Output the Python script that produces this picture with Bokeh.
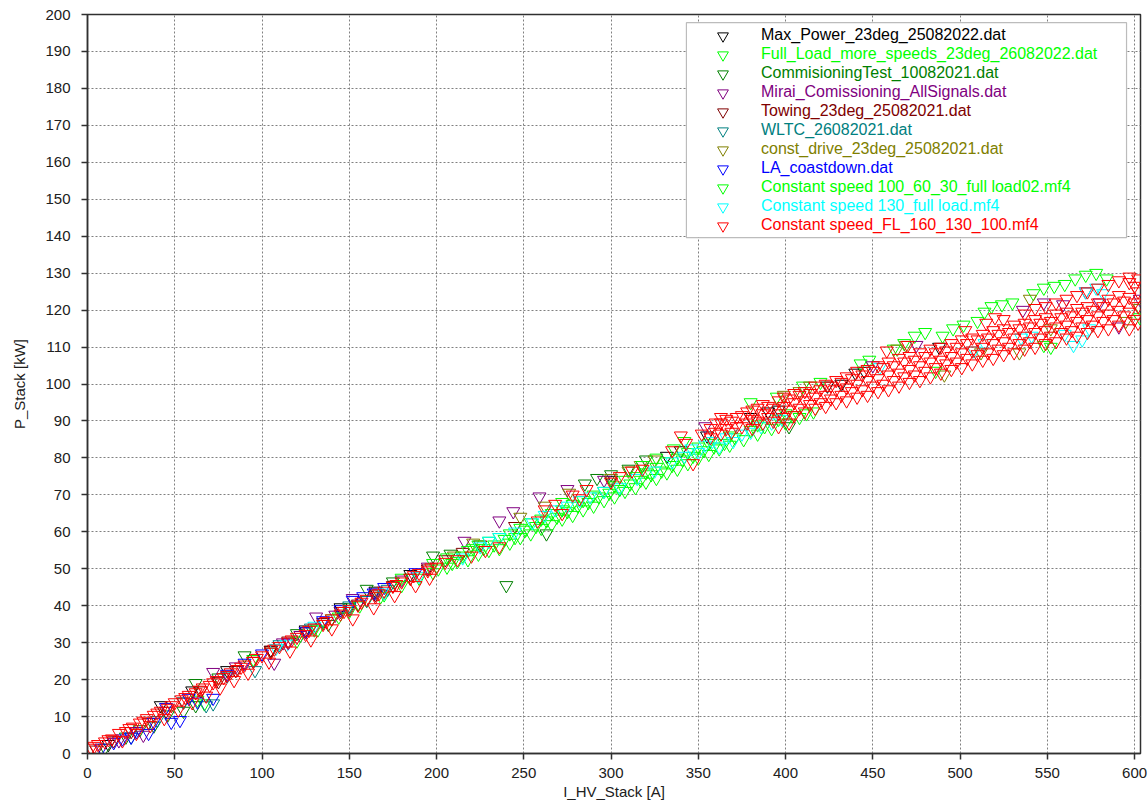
from bokeh.plotting import figure
from bokeh.models import Legend, LegendItem, BoxAnnotation, FixedTicker, Range1d
from bokeh.embed import file_html
from bokeh.resources import INLINE

x_ticks = list(range(0, 601, 50))
y_ticks = list(range(0, 201, 10))

max_power = [(12,2.5),(42,13.0),(60,17.0),(80,22.5),(105,28.0),(125,33.5),(145,39.5),(165,44.0),(185,48.5),
             (300,74.0),(318,78.0),(332,80.5),(340,82.0),(355,86.0),(380,91.0),(390,92.5),(396,93.0),
             (424,99.5),(432,100.0),(440,103.0),(445,103.5),(488,110.0)]
full_load = [(63,14.5),(67,13.5),(95,25.5),(130,33.5),(140,36.5),(150,38.5),(160,41.5),(170,43.0),
             (380,95.0),(395,96.5),(410,99.5),(420,100.5),(443,105.5),(448,106.5),(462,109.5),(468,111.0),
             (474,113.0),(480,114.0),(486,103.5),(490,113.0),(496,115.0),(502,116.0),(510,117.0),(514,119.5),
             (518,121.0),(524,121.5),(530,122.0),(542,124.5),(548,110.5),(552,110.0),(548,126.0),(554,126.5),
             (560,127.0),(566,128.5),(572,129.5),(578,130.0),(584,128.5),(603,118.0)]
commisioning = [(10,1.5),(22,4.5),(30,6.5),(38,7.5),(46,10.5),(55,11.5),(62,13.0),(62,19.0),(75,20.5),
                (90,26.5),(105,27.5),(120,32.5),(138,35.0),(150,39.5),(160,44.5),(175,46.5),(198,53.5),
                (208,54.0),(240,45.5),(263,59.5),(285,73.0),(292,74.5),(300,75.5),(310,77.0),(320,79.5),(402,88.5)]
mirai = [(18,3.5),(32,5.0),(72,22.0),(85,23.5),(107,24.5),(112,30.0),(122,32.0),(131,37.0),(142,37.5),
         (152,42.0),(165,43.5),(180,47.0),(195,50.5),(216,57.5),(236,63.0),(244,65.5),(259,69.5),(275,71.5),
         (296,74.0),(354,88.5),(450,105.0),(475,110.5),(536,120.0),(548,122.0),(559,121.5),(572,125.0),
         (580,122.0),(591,115.5),(603,123.0)]
towing = [(5,1.0),(15,3.5),(25,6.0),(35,8.5),(45,11.5),(55,14.0),(65,17.0),(75,19.5),(85,22.5),(95,25.0),
          (105,28.0),(115,30.5),(125,33.0),(135,35.5),(145,38.5),(155,40.5),(165,43.0),(175,45.5),(185,47.5),
          (195,50.0),(205,52.5),(215,54.5),(225,56.5),(245,61.5)]
wltc = [(25,4.5),(40,9.0),(55,14.0),(68,13.0),(72,13.5),(80,21.0),(96,22.5),(110,29.5),(128,34.0),
        (150,40.0),(160,41.5),(172,44.5)]
const_drive = [(210,53.5),(221,57.0),(248,64.0),(262,67.0),(276,70.5),(300,74.5),(310,76.5),(317,78.0),
               (325,79.5),(399,97.0),(408,98.0),(414,99.5),(464,109.5),(469,110.5),(491,102.5),(512,108.5),
               (534,108.5),(540,123.0),(552,115.0),(595,117.0),(603,120.5)]
la_coastdown = [(8,1.5),(15,3.0),(20,4.0),(25,4.5),(28,6.0),(35,5.5),(38,8.5),(45,12.5),(48,8.5),(53,9.0),
                (58,15.0),(63,14.0),(72,15.0),(80,21.5),(90,24.5),(100,27.0),(115,30.0),(125,33.0),(135,36.0),
                (145,39.0),(152,41.5),(158,42.5),(164,43.5),(170,45.0),(188,49.0)]
cs_100_60_30 = [(120,30.5),(132,33.5),(144,37.0),(156,40.0),(168,42.5),(180,45.5),(180,47.5),(190,47.5),
                (198,49.0),(198,51.5),(206,50.5),(206,53.0),(212,52.0),(218,52.5),(218,55.0),(224,54.0),
                (224,56.5),(230,55.0),(230,57.5),(236,55.5),(236,58.5),(242,57.0),(242,59.5),(248,58.5),
                (248,61.0),(254,59.5),(254,62.5),(260,61.0),(260,63.5),(266,62.0),(266,65.0),(272,63.5),
                (272,66.0),(272,68.0),(278,64.5),(278,67.5),(284,66.0),(284,68.5),(290,67.0),(290,70.0),
                (296,68.5),(296,71.0),(302,69.5),(302,72.5),(308,71.0),(308,74.0),(314,72.0),(314,75.0),
                (318,78.0),(320,73.5),(320,76.0),(326,74.5),(326,77.5),(326,80.0),(332,76.0),(332,79.0),
                (336,82.5),(338,77.0),(338,80.0),(342,84.5),(344,78.5),(344,81.5),(350,80.0),(350,83.0),
                (356,81.0),(356,84.0),(362,82.5),(368,83.5),(368,86.0),(376,85.0),(384,86.5),(384,89.0),
                (392,88.0),(400,89.5),(400,92.0),(408,91.0),(416,92.5),
                (201,50.0),(209,51.5),(215,53.5),(221,55.5),(227,55.5),(233,56.5),(239,58.0),(245,58.5),
                (251,60.5),(257,61.5),(263,63.0),(269,64.0),(275,65.5),(281,67.0),(287,68.0),(293,69.5),
                (299,70.5),(305,71.5),(311,73.0),(317,74.0),(323,75.5),(329,76.5),(335,78.0),(341,79.5),
                (347,80.5),(353,82.0),(359,83.0),(365,84.0),(371,85.5),(380,87.5),(388,88.5),(396,90.5),
                (404,91.5),(412,92.0)]
cs_130 = [(108,28.5),(114,29.5),(130,34.5),(150,39.0),(170,43.5),(190,48.0),(215,53.0),(225,56.0),(230,57.5),
          (236,58.5),(245,60.0),(255,62.5),(262,64.5),(268,66.0),(275,67.0),(282,68.5),(288,69.5),(296,71.0),
          (305,72.0),(315,74.5),(325,76.5),(335,79.0),(342,80.5),(346,82.5),(350,81.5),(354,83.5),(358,84.5),
          (362,83.0),(366,85.5),(370,84.5),(375,86.5),(380,87.0),(386,88.5),(392,89.5),(398,90.5),(454,104.5),
          (508,109.0),(514,111.0),(535,112.5),(541,113.0),(560,113.5),(565,110.5),(570,112.0),(574,115.0),
          (572,125.0),(578,126.0),(582,124.5)]
cs_fl = [(2,1.5),(6,2.5),(10,3.2),(14,4.0),(18,5.5),(22,6.0),(26,7.2),(30,8.3),(34,9.5),(38,10.4),(42,11.5),
         (46,12.3),(50,13.8),(54,14.6),(58,15.8),(62,16.5),(66,17.8),(70,18.5),(74,19.8),(78,20.6),(82,21.9),
         (86,22.8),(90,24.0),(95,25.0),(100,26.5),(105,27.5),(110,29.0),(115,30.2),(120,31.5),(125,32.3),
         (130,34.0),(135,35.0),(140,36.5),(145,37.8),(150,39.0),(155,40.2),(160,41.8),(165,42.5),(170,44.0),
         (175,45.3),(180,46.5),(185,47.5),(190,48.8),(195,49.5),(200,50.5),(205,51.8),
         (20,3.5),(28,5.5),(36,7.6),(44,9.5),(52,11.8),(60,13.8),(68,15.6),(76,17.8),(84,19.8),(92,21.8),
         (104,24.8),(116,27.8),(128,30.8),(140,33.8),(152,36.5),(164,39.5),(176,42.8),(188,45.5),(196,47.5),
         (4,2.0),(12,3.8),(24,6.8),(32,8.8),(40,11.0),(48,13.0),(56,15.2),(64,17.2),(72,19.2),(80,21.2),
         (88,23.4),(97,25.8),(107,28.3),(117,30.8),(127,33.4),(137,35.8),(147,38.5),(157,41.0),(167,43.3),
         (177,45.8),(187,48.2),(197,50.3),
         (212,52.5),(220,53.5),(228,55.0),(236,56.0),(258,63.0),(262,66.0),(268,67.5),(272,65.0),(278,70.0),
         (282,69.0),(286,71.5),(300,73.5),(305,75.0),(312,76.5),(318,77.0),(335,82.0),(340,86.0),(343,84.0),
         (347,78.5),(352,86.5),
         (357,85.5),(357,88.0),(363,86.5),(363,89.5),(363,91.0),(369,87.0),(369,90.0),(375,88.5),(375,91.5),
         (381,88.0),(381,90.5),(381,93.0),(387,89.5),(387,92.0),(387,94.5),(393,90.0),(393,93.5),(396,88.5),
         (399,91.0),(399,94.0),(399,96.5),(402,89.5),(405,91.5),(405,95.0),(405,97.5),(411,92.5),(411,95.5),
         (411,98.0),(417,93.5),(417,96.5),(417,99.5),(423,94.0),(423,97.0),(423,100.0),(429,95.0),(429,98.5),
         (429,101.0),(435,95.5),(435,99.0),(435,102.0),(441,96.5),(441,100.0),(441,103.5),(447,97.0),
         (447,101.0),(447,104.0),(453,98.0),(453,101.5),(453,105.0),(458,109.0),(459,98.5),(459,102.5),
         (459,106.0),(465,99.5),(465,103.0),(465,107.0),(470,110.5),(471,100.5),(471,104.0),(471,107.5),
         (477,101.0),(477,105.0),(477,108.5),(483,102.0),(483,106.0),(483,109.5),(489,103.0),(489,106.5),
         (489,110.0),(495,104.0),(495,107.5),(495,111.0),(501,104.5),(501,108.5),(501,112.0),(503,114.5),
         (507,105.5),(507,109.0),(507,112.5),(513,106.5),(513,110.0),(513,113.5),(515,116.5),(519,107.0),
         (519,111.0),(519,114.5),(520,118.0),(525,108.0),(525,111.5),(525,115.0),(525,117.5),(531,108.5),
         (531,112.5),(531,116.0),(537,109.5),(537,113.0),(537,116.5),(537,119.0),(543,110.0),(543,114.0),
         (543,117.5),(543,120.5),(549,111.0),(549,114.5),(549,118.0),(549,121.0),(555,111.5),(555,115.5),
         (555,119.0),(555,122.0),(561,112.5),(561,116.0),(561,119.5),(561,123.0),(567,113.0),(567,117.0),
         (567,120.5),(567,124.0),(573,114.0),(573,117.5),(573,121.0),(573,125.0),(579,114.5),(579,118.5),
         (579,122.0),(579,126.0),(585,115.0),(585,119.0),(585,123.0),(585,127.0),(591,116.0),(591,120.0),
         (591,124.0),(591,128.0),(597,115.0),(597,119.5),(597,123.5),(597,127.5),(597,129.0),(602,116.5),
         (602,121.0),(602,125.0),(602,128.5),
         (360,87.0),(360,89.5),(366,88.0),(366,90.5),(372,88.5),(372,91.0),(378,89.5),(378,92.5),(384,90.0),
         (384,93.5),(390,91.0),(390,94.0),(396,92.0),(396,95.5),(402,93.0),(402,96.0),(408,93.5),(408,97.0),
         (414,94.5),(414,97.5),(420,95.0),(420,98.5),(426,96.0),(426,99.5),(432,97.0),(432,100.5),(438,98.0),
         (438,101.5),(444,98.5),(444,102.5),(450,99.5),(450,103.5),(456,100.0),(456,104.5),(462,101.0),
         (462,105.0),(468,102.0),(468,106.0),(474,102.5),(474,106.5),(480,103.5),(480,107.5),(486,104.5),
         (486,108.5),(492,105.5),(492,109.0),(498,106.0),(498,110.0),(504,107.0),(504,111.0),(510,108.0),
         (510,112.0),(516,108.5),(516,112.5),(522,109.5),(522,113.5),(528,110.0),(528,114.0),(534,111.0),
         (534,115.0),(540,111.5),(540,115.5),(546,112.5),(546,116.5),(552,113.0),(552,117.0),(558,114.0),
         (558,118.0),(564,114.5),(564,118.5),(570,115.5),(570,119.5),(576,116.0),(576,120.0),(582,117.0),
         (582,121.0),(588,117.5),(588,122.0),(594,118.5),(594,122.5),(600,117.5),(600,122.0),(600,126.5)]

series_names = ["Max_Power_23deg_25082022.dat",
                "Full_Load_more_speeds_23deg_26082022.dat",
                "CommisioningTest_10082021.dat",
                "Mirai_Comissioning_AllSignals.dat",
                "Towing_23deg_25082021.dat",
                "WLTC_26082021.dat",
                "const_drive_23deg_25082021.dat",
                "LA_coastdown.dat",
                "Constant speed 100_60_30_full load02.mf4",
                "Constant speed 130_full load.mf4",
                "Constant speed_FL_160_130_100.mf4"]
series_colors = ["#000000", "#00ff00", "#008000", "#800080", "#800000", "#008080",
                 "#808000", "#0000ff", "#00ff00", "#00ffff", "#ff0000"]
series_data = [max_power, full_load, commisioning, mirai, towing, wltc, const_drive,
               la_coastdown, cs_100_60_30, cs_130, cs_fl]

FONT = "Liberation Sans"

p = figure(width=1148, height=804, output_backend="svg", toolbar_location=None,
           x_range=Range1d(0, 603.4), y_range=Range1d(0, 200),
           min_border_left=87, min_border_right=8, min_border_top=14, min_border_bottom=51)
p.background_fill_color = "white"
p.border_fill_color = "white"
p.outline_line_color = "#303030"
p.outline_line_width = 1.5

p.xaxis.ticker = FixedTicker(ticks=x_ticks)
p.yaxis.ticker = FixedTicker(ticks=y_ticks)
p.xaxis.axis_label = "I_HV_Stack [A]"
p.yaxis.axis_label = "P_Stack [kW]"
for ax in (p.xaxis, p.yaxis):
    ax.axis_label_text_font = FONT
    ax.axis_label_text_font_size = "15px"
    ax.axis_label_text_font_style = "normal"
    ax.axis_label_text_color = "#202020"
    ax.major_label_text_font = FONT
    ax.major_label_text_font_size = "15px"
    ax.major_label_text_color = "#202020"
    ax.minor_tick_line_color = None
    ax.major_tick_in = 0
    ax.major_tick_out = 6
    ax.major_tick_line_color = "#303030"
    ax.major_tick_line_width = 1.5
    ax.axis_line_color = "#303030"
    ax.axis_line_width = 1.5
p.xaxis.major_label_standoff = 8
p.xaxis.axis_label_standoff = 2
p.yaxis.major_label_standoff = 11
p.yaxis.axis_label_standoff = 14

for g in (p.xgrid, p.ygrid):
    g.grid_line_color = "#808080"
    g.grid_line_dash = "2 2"
    g.grid_line_width = 1

renderers = []
for name, color, pts in zip(series_names, series_colors, series_data):
    xs = [a for a, b in pts]
    ys = [b for a, b in pts]
    r = p.scatter(xs, ys, marker="inverted_triangle", size=13, line_color=color,
                  fill_color=None, line_width=1)
    renderers.append(r)

box = BoxAnnotation(left=343.2, right=595.4, top=197.8, bottom=139.6,
                    fill_color="white", fill_alpha=1.0, line_color="#202020", line_width=1.2)
p.add_layout(box)

for i, (name, color, r) in enumerate(zip(series_names, series_colors, renderers)):
    leg = Legend(items=[LegendItem(label=name, renderers=[r])],
                 location=(622, 704.5 - 19 * i),
                 margin=0, padding=0, spacing=0,
                 glyph_width=27, glyph_height=27, label_height=27,
                 label_standoff=25,
                 label_text_font=FONT, label_text_font_size="16px",
                 label_text_color=color,
                 border_line_color=None, background_fill_alpha=0)
    p.add_layout(leg)

open("out.html", "w").write(file_html(p, INLINE))
